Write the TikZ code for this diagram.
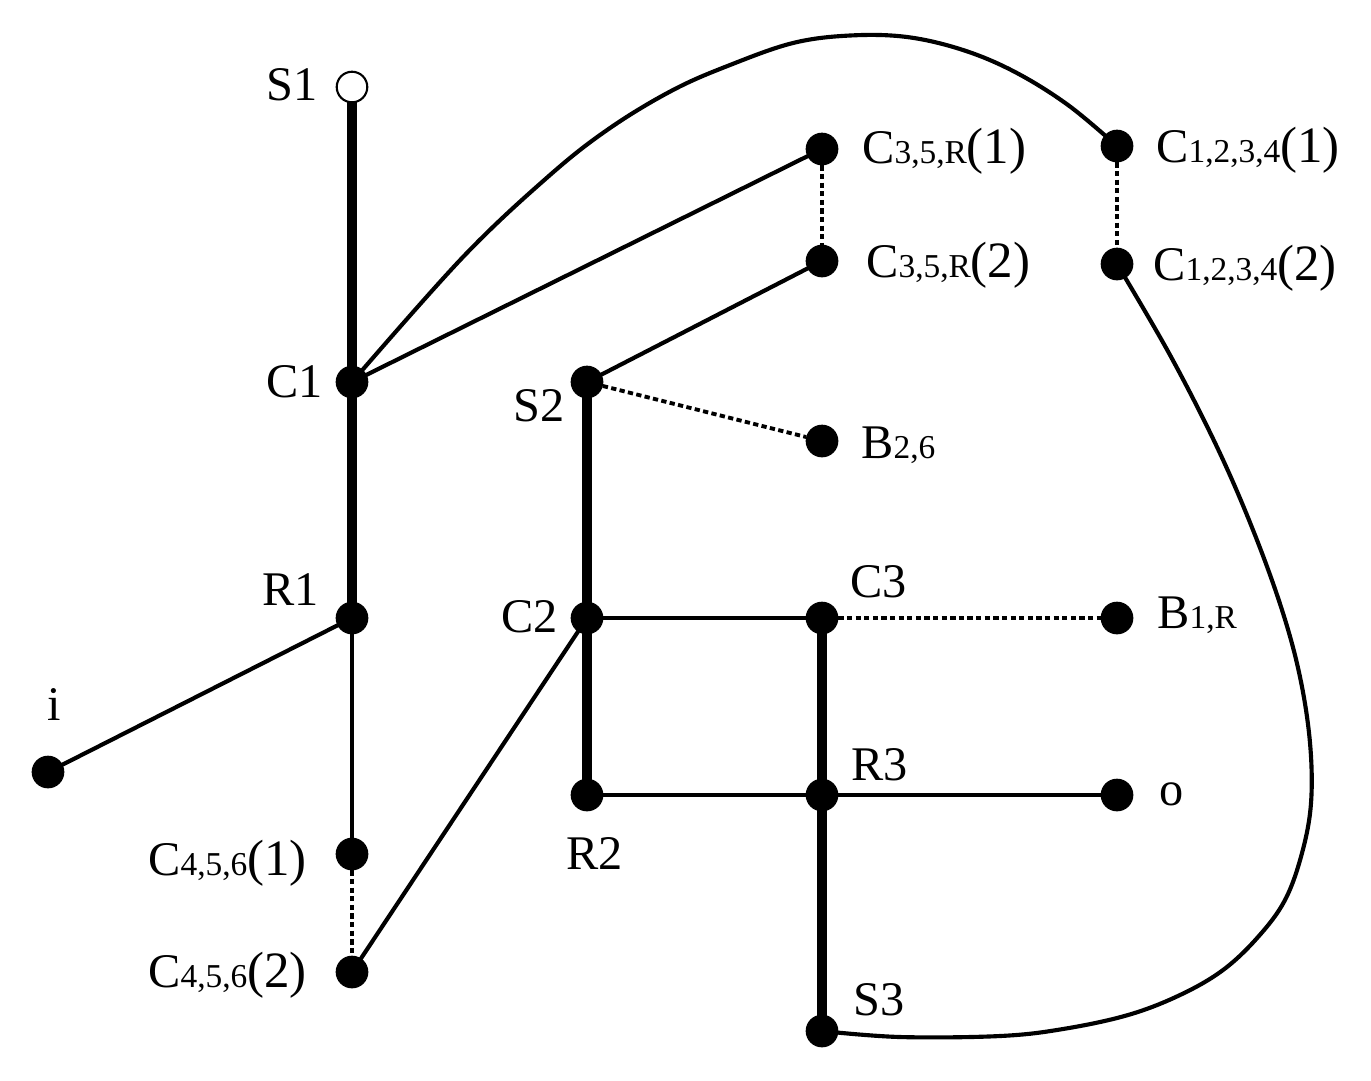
\documentclass[tikz,border=0pt]{standalone}
\usepackage{fontspec}
\setmainfont{Liberation Serif}
\usetikzlibrary{backgrounds}
\newcommand{\subf}[1]{{\fontsize{19}{22}\selectfont #1}}
\newcommand{\parf}[1]{{\fontsize{29}{33}\selectfont #1}}
\tikzset{x=0.02cm,y=-0.02cm,
 dot/.style={circle,fill=black,draw=black,line width=0.6pt,minimum size=18pt,inner sep=0pt},
 opendot/.style={dot,fill=white,line width=1.2pt,minimum size=17.4pt},
 thick line/.style={line width=5.7pt},
 thin line/.style={line width=2.35pt},
 thinner line/.style={line width=2.05pt},
 dash line/.style={line width=2.2pt,dash pattern=on 3pt off 1.9pt},
 curve line/.style={thin line,line join=round},
 lbl/.style={font=\fontsize{27.5}{30}\selectfont,inner sep=0pt,text=black,anchor=base west}}
\begin{document}
\begin{tikzpicture}
\useasboundingbox (0,0) rectangle (1371,1080);
% nodes
\node[opendot] (s1) at (352,87) {};
\node[dot] (c1) at (352,382) {};
\node[dot] (r1) at (352,618) {};
\node[dot] (i) at (48,772) {};
\node[dot] (c456a) at (352,854) {};
\node[dot] (c456b) at (352,972) {};
\node[dot] (s2) at (587,382) {};
\node[dot] (c2) at (587,618) {};
\node[dot] (r2) at (587,795) {};
\node[dot] (c3) at (822,618) {};
\node[dot] (r3) at (822,795) {};
\node[dot] (s3) at (822,1031) {};
\node[dot] (c35a) at (822,149) {};
\node[dot] (c35b) at (822,261) {};
\node[dot] (b26) at (822,441) {};
\node[dot] (c1234a) at (1117,146) {};
\node[dot] (c1234b) at (1117,264) {};
\node[dot] (b1r) at (1117,618) {};
\node[dot] (o) at (1117,795) {};
% connectors
\begin{scope}[on background layer]
\fill[white] (0,0) rectangle (1371,1080);
\draw[thick line] (s1.center) -- (c1.center);
\draw[thick line] (c1.center) -- (r1.center);
\draw[thick line] (s2.center) -- (c2.center);
\draw[thick line] (c2.center) -- (r2.center);
\draw[thick line] (c3.center) -- (r3.center);
\draw[thick line] (r3.center) -- (s3.center);
\draw[thinner line] (r1.center) -- (c456a.center);
\draw[thin line] (r1.center) -- (i.center);
\draw[thin line] (c1.center) -- (c35a.center);
\draw[thin line] (s2.center) -- (c35b.center);
\draw[thin line] (c2.center) -- (c3.center);
\draw[thin line] (r2.center) -- (r3.center);
\draw[thin line] (r3.center) -- (o.center);
\draw[thin line] (c2.center) -- (c456b.center);
\draw[dash line] (c35a) -- (c35b);
\draw[dash line] (c1234a) -- (c1234b);
\draw[dash line] (c456a) -- (c456b);
\draw[dash line] (s2) -- (b26);
\draw[dash line] (c3) -- (b1r);
\draw[curve line] plot[smooth,tension=0.6] coordinates {(c1.center) (463,257) (550,175) (610,128) (673,90) (730,65) (793,43) (850,35.5) (907,37) (963,50) (1015,72) (1068,105) (c1234a.center)};
\draw[curve line] plot[smooth,tension=0.6] coordinates {(c1234b.center) (1170,355) (1217,447) (1253,530) (1282,610) (1300,677) (1310,743) (1311,803) (1302,853) (1285,900) (1258,937) (1223,970) (1180,995) (1128,1015) (1063,1029) (1000,1036) (900,1037) (s3.center)};
\end{scope}
% labels
\node[lbl] at (266,100) {S1};
\node[lbl] at (266,397) {C1};
\node[lbl] at (262,605) {R1};
\node[lbl] at (47,720) {i};
\node[lbl] at (513,421) {S2};
\node[lbl] at (501,632) {C2};
\node[lbl] at (566,869) {R2};
\node[lbl] at (850,597) {C3};
\node[lbl] at (851,780) {R3};
\node[lbl] at (853,1015) {S3};
\node[lbl] at (1159,805) {o};
\node[lbl] at (148,875) {C\subf{4,5,6}\parf{(1)}};
\node[lbl] at (148,987) {C\subf{4,5,6}\parf{(2)}};
\node[lbl] at (862,163) {C\subf{3,5,R}\parf{(1)}};
\node[lbl] at (866,277) {C\subf{3,5,R}\parf{(2)}};
\node[lbl] at (861,458) {B\subf{2,6}};
\node[lbl] at (1156,162) {C\subf{1,2,3,4}\parf{(1)}};
\node[lbl] at (1153,280) {C\subf{1,2,3,4}\parf{(2)}};
\node[lbl] at (1157,628) {B\subf{1,R}};
\end{tikzpicture}
\end{document}
